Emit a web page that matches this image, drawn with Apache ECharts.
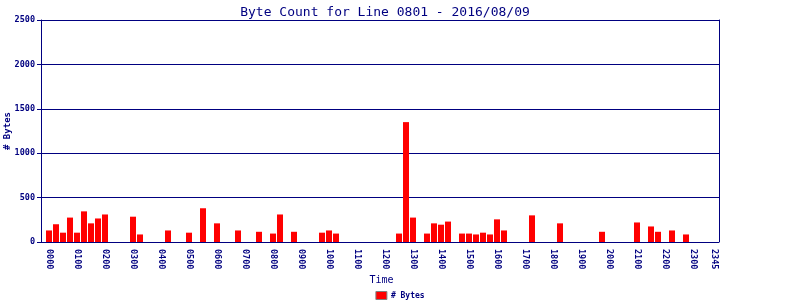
<!DOCTYPE html>
<html>
<head>
<meta charset="utf-8">
<script src="https://cdn.jsdelivr.net/npm/echarts@6/dist/echarts.min.js"></script>
<style>html,body{margin:0;padding:0;background:#fff;}#c{width:800px;height:300px;}</style>
</head>
<body>
<div id="c"></div>
<script>
var categories = [
"0000","0015","0030","0045","0100","0115","0130","0145","0200","0215","0230","0245",
"0300","0315","0330","0345","0400","0415","0430","0445","0500","0515","0530","0545",
"0600","0615","0630","0645","0700","0715","0730","0745","0800","0815","0830","0845",
"0900","0915","0930","0945","1000","1015","1030","1045","1100","1115","1130","1145",
"1200","1215","1230","1245","1300","1315","1330","1345","1400","1415","1430","1445",
"1500","1515","1530","1545","1600","1615","1630","1645","1700","1715","1730","1745",
"1800","1815","1830","1845","1900","1915","1930","1945","2000","2015","2030","2045",
"2100","2115","2130","2145","2200","2215","2230","2245","2300","2315","2330","2345"];
var byteCounts = [
130,200,105,275,105,345,210,265,310,0,0,0,
285,85,0,0,0,130,0,0,105,0,380,0,
210,0,0,130,0,0,115,0,95,310,0,115,
0,0,0,105,130,95,0,0,0,0,0,0,
0,0,95,1350,275,0,95,210,195,230,0,95,
95,85,105,85,255,130,0,0,0,300,0,0,
0,210,0,0,0,0,0,115,0,0,0,0,
220,0,175,115,0,130,0,85,0,0,0,0];
var yTicks = [0,500,1000,1500,2000,2500];

var navy = '#000080';
var mono = 'DejaVu Sans Mono';
var chart = echarts.init(document.getElementById('c'), null, {renderer:'canvas'});
chart.setOption({
  animation:false,
  backgroundColor:'#fff',
  title:{text:'Byte Count for Line 0801 - 2016/08/09', left:380, textAlign:'center', top:1,
    textStyle:{color:navy, fontFamily:mono, fontSize:13, fontWeight:'normal'}},
  legend:{data:['# Bytes'], left:'center', top:286, itemWidth:11, itemHeight:8, itemGap:4,
    icon:'rect',
    itemStyle:{borderColor:'#808080', borderWidth:1},
    textStyle:{color:navy, fontFamily:mono, fontSize:8, fontWeight:'bold', padding:[0,0,0,-1]}},
  grid:[
    {left:45.5, top:20, width:672, height:222, outerBoundsMode:'none', containLabel:false},
    {left:41, top:20, width:678, height:222, outerBoundsMode:'none', containLabel:false}
  ],
  xAxis:[
    {type:'category', gridIndex:0, data:categories, boundaryGap:true,
     axisLine:{show:false}, axisTick:{show:false},
     axisLabel:{rotate:-90, margin:7, color:navy, fontFamily:mono, fontSize:8.5, fontWeight:'bold',
       interval:function(i){return i%4===0 || i===categories.length-1;}},
     name:'Time', nameLocation:'middle', nameGap:33, nameMoveOverlap:false,
     nameTextStyle:{color:navy, fontFamily:mono, fontSize:10}},
    {type:'value', gridIndex:1, show:false, min:0, max:1}
  ],
  yAxis:[
    {type:'value', gridIndex:0, min:0, max:2500, interval:500, show:false},
    {type:'value', gridIndex:1, min:0, max:2500, interval:500, position:'left',
     axisLine:{show:true, onZero:false, lineStyle:{color:navy, width:1}},
     axisTick:{show:true, length:4, lineStyle:{color:navy}},
     axisLabel:{margin:6, color:navy, fontFamily:mono, fontSize:8.5, fontWeight:'bold',
       formatter:function(v){return yTicks.indexOf(v)>=0 ? String(v) : '';}},
     splitLine:{show:true, lineStyle:{color:navy, width:1}},
     name:'# Bytes', nameLocation:'middle', nameGap:29, nameRotate:90, nameMoveOverlap:false,
     nameTextStyle:{color:navy, fontFamily:mono, fontSize:9, fontWeight:'bold', padding:[0,0,0,0]}},
    {type:'value', gridIndex:1, min:0, max:2500, interval:500, position:'right',
     axisLine:{show:true, onZero:false, lineStyle:{color:navy, width:1}},
     axisTick:{show:false}, axisLabel:{show:false}, splitLine:{show:false}}
  ],
  series:[{
    name:'# Bytes', type:'bar', xAxisIndex:0, yAxisIndex:0,
    data:byteCounts, barWidth:6,
    itemStyle:{color:'#ff0000'}
  }]
});
</script>
</body>
</html>
